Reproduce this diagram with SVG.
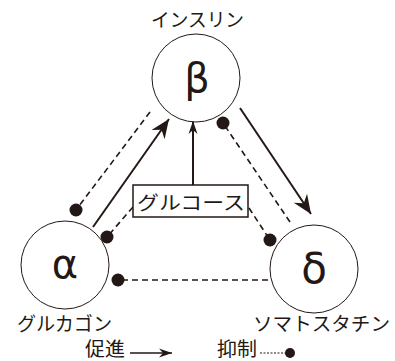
<svg xmlns="http://www.w3.org/2000/svg" width="395" height="361" viewBox="0 0 395 361">
  <defs>
    <style>
      .cell { fill: #fff; stroke: #231815; stroke-width: 1; }
      .greek { font-family: "DejaVu Sans", "Liberation Sans", sans-serif; fill: #231815; text-anchor: middle; }
      .label { font-family: "Noto Sans CJK JP", "Noto Sans", sans-serif; font-size: 19px; fill: #231815; }
      .promote { stroke: #231815; stroke-width: 2; fill: none; }
      .inhibit { stroke: #231815; stroke-width: 1.6; fill: none; stroke-dasharray: 6 4; }
      .dot { fill: #231815; }
    </style>
    <marker id="head" markerUnits="userSpaceOnUse" viewBox="-20 -9 22 18" refX="0" refY="0" markerWidth="22" markerHeight="18" orient="auto">
      <path d="M0,0 L-19,-8 L-13,0 L-19,8 Z" fill="#231815"/>
    </marker>
    <marker id="headSmall" markerUnits="userSpaceOnUse" viewBox="-14 -6 16 12" refX="0" refY="0" markerWidth="16" markerHeight="12" orient="auto">
      <path d="M0,0 L-13,-4.5 L-9,0 L-13,4.5 Z" fill="#231815"/>
    </marker>
  </defs>
  <rect width="395" height="361" fill="#fff"/>

  <g id="connectors">
    <!-- promotion -->
    <line class="promote" x1="93" y1="227" x2="169" y2="119" marker-end="url(#head)"/>
    <line class="promote" x1="240" y1="108" x2="311" y2="214" marker-end="url(#head)"/>
    <line class="promote" x1="193" y1="185" x2="193" y2="121" stroke-width="1.3" marker-end="url(#headSmall)"/>
    <!-- inhibition -->
    <line class="inhibit" x1="150" y1="112" x2="76" y2="210"/>
    <circle class="dot" cx="76" cy="210" r="6.5"/>
    <line class="inhibit" x1="133" y1="207" x2="107" y2="237"/>
    <circle class="dot" cx="107" cy="237" r="6.5"/>
    <line class="inhibit" x1="290" y1="222" x2="223" y2="123"/>
    <circle class="dot" cx="223" cy="123" r="6.5"/>
    <line class="inhibit" x1="249" y1="208" x2="270" y2="240"/>
    <circle class="dot" cx="270" cy="240" r="6.5"/>
    <line class="inhibit" x1="268" y1="280" x2="118" y2="280"/>
    <circle class="dot" cx="118" cy="280" r="6.5"/>
  </g>

  <g id="beta">
    <circle class="cell" cx="196" cy="78" r="44"/>
    <text class="greek" x="197" y="92" font-size="40">β</text>
    <text class="label" x="151" y="27" textLength="93" lengthAdjust="spacingAndGlyphs">インスリン</text>
  </g>

  <g id="alpha">
    <circle class="cell" cx="65" cy="265" r="44"/>
    <text class="greek" x="65" y="278" font-size="40">α</text>
    <text class="label" x="17" y="331" textLength="95" lengthAdjust="spacingAndGlyphs">グルカゴン</text>
  </g>

  <g id="delta">
    <circle class="cell" cx="314" cy="269" r="44"/>
    <text class="greek" x="314" y="283" font-size="42">δ</text>
    <text class="label" x="253" y="331" textLength="137" lengthAdjust="spacingAndGlyphs">ソマトスタチン</text>
  </g>

  <g id="glucose">
    <rect x="133" y="185" width="115" height="32" fill="#fff" stroke="#231815" stroke-width="1.5"/>
    <text class="label" x="137" y="210" font-size="23" textLength="108" lengthAdjust="spacingAndGlyphs">グルコース</text>
  </g>

  <g id="legend">
    <text class="label" x="85" y="356" textLength="40" lengthAdjust="spacingAndGlyphs">促進</text>
    <line x1="130" y1="353" x2="172" y2="353" stroke="#231815" stroke-width="1.3" marker-end="url(#headSmall)"/>
    <text class="label" x="217" y="356" textLength="40" lengthAdjust="spacingAndGlyphs">抑制</text>
    <line x1="260" y1="353" x2="286" y2="353" stroke="#231815" stroke-width="1.2" stroke-dasharray="2 1.5"/>
    <circle class="dot" cx="290" cy="353" r="5"/>
  </g>
</svg>
